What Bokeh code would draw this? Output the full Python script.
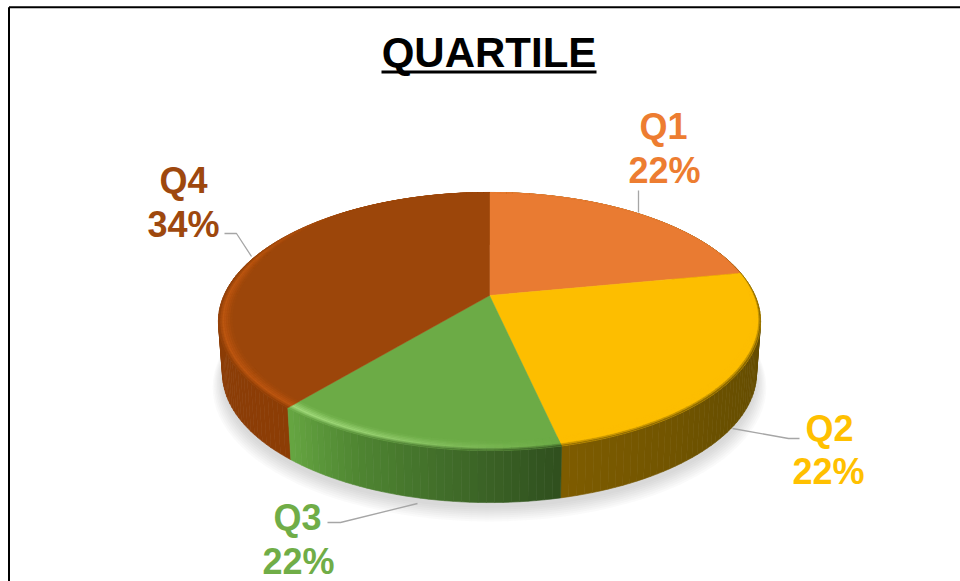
import numpy as np
from bokeh.plotting import figure
from bokeh.models import Range1d, ColumnDataSource
from bokeh.core.properties import value
from bokeh.embed import file_html
from bokeh.resources import INLINE

# ---- data ----
title = "QUARTILE"
quarters = ["Q1", "Q2", "Q3", "Q4"]
labelled_pct = [22, 22, 22, 34]          # percentages printed on the labels
drawn_share = [22.0, 24.5, 14.6, 38.9]   # share of the turn each wedge really occupies

# ---- style ----
text_colors = ["#ED7D31", "#FFC000", "#70AD47", "#9E480E"]
top_colors = ["#E97B32", "#FDBE00", "#6CAB46", "#9C460A"]
# wall colour stops, clockwise fraction through each wedge
wall_stops = [
    [(0, "#6B5200"), (1, "#6B5200")],
    [(0, "#5F4A00"), (0.6, "#6A5000"), (1, "#7E5C00")],
    [(0, "#2F4F1E"), (0.35, "#3F6A28"), (0.7, "#4F8632"), (1, "#66A642")],
    [(0, "#8C3D05"), (0.4, "#8A3D08"), (0.65, "#A04A0C"), (1, "#A04A0C")],
]
rim_highlight = ["#E97B32", "#FDBE00", "#A2DA7C", "#BC5610"]
leader_color = "#A6A6A6"

# ---- layout ----
W, H = 960, 581
CX, CY = 489.0, 295.0
A, B, K = 265.5, 123.8, 0.2016   # perspective disc
DEPTH, BOTTOM_X = 52.0, 0.985
RIM = 0.05
label_pos = [((663, 126), (664, 170)), ((829, 428), (828, 471)),
             ((297, 517), (298, 561)), ((183, 180), (183, 224))]
leaders = [([638, 638], [212, 190]),
           ([732, 788, 799], [428, 438, 438]),
           ([417, 340, 327], [503, 522, 522]),
           ([251, 236, 224], [256, 233, 233])]


def rgb(c):
    return np.array([int(c[i:i + 2], 16) for i in (1, 3, 5)], float)


def mix(a, b, t):
    v = rgb(a) * (1 - t) + rgb(b) * t
    return "#%02x%02x%02x" % tuple(int(round(x)) for x in v)


def stops_color(stops, f):
    for (f0, c0), (f1, c1) in zip(stops, stops[1:]):
        if f <= f1:
            return mix(c0, c1, (f - f0) / (f1 - f0))
    return stops[-1][1]


def project(deg, r=1.0, dy=0.0, xs=1.0):
    a = np.radians(deg)
    u, v = r * np.sin(a), r * np.cos(a)
    d = 1 + K * v
    return CX + xs * A * u / d, CY - B * v / d + dy


def rim_width(deg):
    return np.interp(deg, [0, 70, 120, 160, 280, 320, 360],
                     [.05, .1, .9, 1, 1, .1, .05])


def highlight_strength(i, deg):
    if i == 2:
        return np.interp(deg, [167, 185, 205, 220], [.0, .35, .85, 1])
    if i == 3:
        return np.interp(deg, [220, 290, 325], [1, 1, 0])
    return 0.0


edges = np.concatenate([[0], np.cumsum(drawn_share)]) / np.sum(drawn_share) * 360

p = figure(width=W, height=H, output_backend="svg", toolbar_location=None,
           x_range=Range1d(0, W), y_range=Range1d(H, 0), min_border=0,
           outline_line_color=None, background_fill_color="white")
p.axis.visible = False
p.grid.visible = False
p.styles = {"position": "absolute", "left": "0px", "top": "0px"}

# soft shadow below the pie
ring = np.arange(0, 360, 3.0)
for s, extra in zip([1.035, 1.03, 1.025, 1.02, 1.015, 1.01, 1.005, 1.0],
                    [12, 11, 10, 9, 8, 7, 6, 5]):
    x, y = project(ring, r=s, dy=DEPTH + extra, xs=BOTTOM_X)
    p.patch(list(x), list(y), fill_color="#70707C", fill_alpha=0.035, line_color=None)

# walls, back to front
wx, wy, wc = [], [], []
STEP = 1.5
for i in range(4):
    a0, a1 = edges[i], edges[i + 1]
    n = max(1, int(np.ceil((a1 - a0) / STEP)))
    aa = np.linspace(a0, a1, n + 1)
    for s, e in zip(aa, aa[1:]):
        xt, yt = project(np.array([s, e]))
        xb, yb = project(np.array([e, s]), dy=DEPTH, xs=BOTTOM_X)
        wx.append(list(xt) + list(xb))
        wy.append(list(yt) + list(yb))
        wc.append(stops_color(wall_stops[i], ((s + e) / 2 - a0) / (a1 - a0)))
order = sorted(range(len(wx)), key=lambda j: np.mean(wy[j]))
p.patches([wx[j] for j in order], [wy[j] for j in order],
          fill_color=[wc[j] for j in order], line_color=[wc[j] for j in order], line_width=0.6)

# top face wedges
for i in range(4):
    aa = np.linspace(edges[i], edges[i + 1], 90)
    x, y = project(aa)
    p.patch([CX] + list(x), [CY] + list(y), fill_color=top_colors[i],
            line_color=top_colors[i], line_width=0.5)

# bevelled rim on the top face
rx, ry, rc = [], [], []
RINGS = 7
for i in range(4):
    a0, a1 = edges[i], edges[i + 1]
    n = max(1, int(np.ceil((a1 - a0) / STEP)))
    aa = np.linspace(a0, a1, n + 1)
    for s, e in zip(aa, aa[1:]):
        mid = (s + e) / 2
        wall = stops_color(wall_stops[i], (mid - a0) / (a1 - a0))
        hl = mix(top_colors[i], rim_highlight[i], highlight_strength(i, mid))
        for k in range(RINGS):
            t0, t1 = k / RINGS, (k + 1) / RINGS
            tm = (t0 + t1) / 2
            col = mix(wall, hl, tm / .35) if tm < .35 else mix(hl, top_colors[i], (tm - .35) / .65)
            w0 = RIM * rim_width(s)
            w1 = RIM * rim_width(e)
            xo, yo = project(np.array([s, e]), r=np.array([1 - w0 * t0, 1 - w1 * t0]))
            xi, yi = project(np.array([e, s]), r=np.array([1 - w1 * t1, 1 - w0 * t1]))
            rx.append(list(xo) + list(xi))
            ry.append(list(yo) + list(yi))
            rc.append(col)
p.patches(rx, ry, fill_color=rc, line_color=rc, line_width=0.4)

# frame (open at right and bottom, as cropped in the picture)
p.line([8.5, 8.5], [H, 6.7], line_color="black", line_width=2)
p.line([8.5, W], [6.7, 6.7], line_color="black", line_width=2)

# leader lines
for lx, ly in leaders:
    p.line(lx, ly, line_color=leader_color, line_width=1.3)

# title
p.text([488.5], [52], text=[title], text_font=value("Liberation Sans"), text_font_style="bold",
       text_font_size=value("42px"), text_color="black", text_align="center", text_baseline="middle")
p.line([381, 596], [71.5, 71.5], line_color="black", line_width=3)

# labels
for i in range(4):
    (x1, y1), (x2, y2) = label_pos[i]
    src = ColumnDataSource(dict(x=[x1, x2], y=[y1, y2], t=[quarters[i], f"{labelled_pct[i]}%"]))
    p.text("x", "y", text="t", source=src, text_font=value("Liberation Sans"), text_font_style="bold",
           text_font_size=value("36px"), text_color=text_colors[i],
           text_align="center", text_baseline="middle")

open("out.html", "w").write(file_html(p, INLINE))
